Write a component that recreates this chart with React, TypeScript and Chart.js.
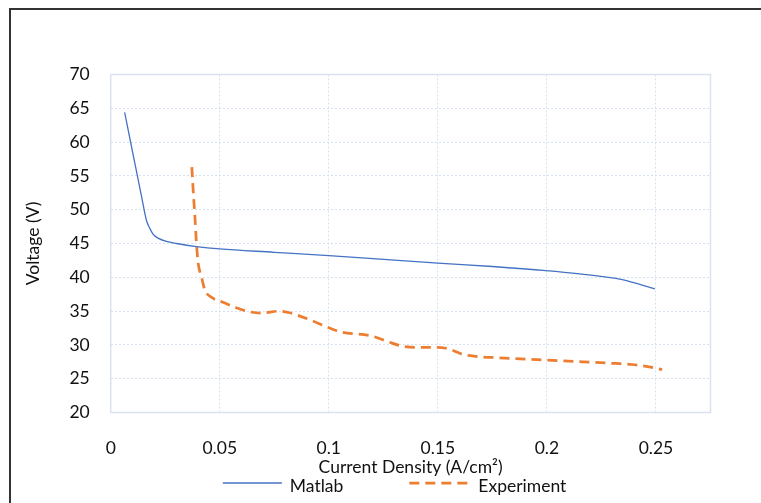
import React, { useEffect, useRef } from 'react';
import { Chart, registerables } from 'chart.js';

Chart.register(...registerables);

// ---- Data ----
const seriesNames = ['Matlab', 'Experiment'];

const matlabX = [0.0064, 0.009, 0.0115, 0.014, 0.0164, 0.018, 0.0194, 0.0217, 0.0256, 0.0302, 0.0393, 0.05, 0.075, 0.1, 0.1186, 0.15, 0.175, 0.1995, 0.215, 0.2345, 0.2425, 0.2495];
const matlabY = [64.4, 60.2, 56.2, 52.2, 48.4, 47.2, 46.4, 45.8, 45.3, 45.0, 44.55, 44.2, 43.7, 43.2, 42.8, 42.1, 41.6, 41.0, 40.5, 39.65, 38.95, 38.3];

const expX = [0.0372, 0.0378, 0.0386, 0.0393, 0.0401, 0.0416, 0.0431, 0.0469, 0.0515, 0.0576, 0.0637, 0.0691, 0.0774, 0.082, 0.0911, 0.1003, 0.1064, 0.1186, 0.1232, 0.1278, 0.1339, 0.14, 0.1499, 0.1537, 0.1567, 0.1613, 0.1674, 0.178, 0.1995, 0.2163, 0.2315, 0.239, 0.2467, 0.2528];
const expY = [56.3, 52.9, 49.0, 45.1, 42.1, 40.1, 38.2, 36.9, 36.3, 35.5, 34.9, 34.7, 35.0, 34.75, 33.75, 32.5, 31.85, 31.4, 30.95, 30.4, 29.8, 29.65, 29.65, 29.5, 29.2, 28.6, 28.3, 28.1, 27.75, 27.5, 27.25, 27.1, 26.75, 26.35];

const xTickValues = [0, 0.05, 0.1, 0.15, 0.2, 0.25];
const xTickLabels = ['0', '0.05', '0.1', '0.15', '0.2', '0.25'];
const yTickValues = [20, 25, 30, 35, 40, 45, 50, 55, 60, 65, 70];
const yTickLabels = ['20', '25', '30', '35', '40', '45', '50', '55', '60', '65', '70'];

const xAxisTitle = 'Current Density (A/cm\u00B2)';
const yAxisTitle = 'Voltage (V)';

const X_MIN = 0;
const X_MAX = 0.275;
const Y_MIN = 20;
const Y_MAX = 70;

// ---- Styles ----
const FONT = 'Lato, "Open Sans", sans-serif';
const FONT_SIZE = 17.5;
const TEXT = '#111111';
const BLUE = '#4472C4';
const ORANGE = '#ED7D31';
const GRID = '#D6E1EF';
const FRAME = '#D9E2EE';

const framePlugin = {
  id: 'plotFrame',
  beforeDatasetsDraw(chart: any) {
    const { ctx, chartArea: a } = chart;
    ctx.save();
    ctx.strokeStyle = FRAME;
    ctx.lineWidth = 1.5;
    ctx.setLineDash([]);
    ctx.strokeRect(a.left, a.top, a.right - a.left, a.bottom - a.top);
    ctx.restore();
  },
};

const lineLegendPlugin = {
  id: 'lineLegend',
  afterDraw(chart: any) {
    const { ctx, chartArea: a } = chart;
    const ds = chart.data.datasets;
    ctx.save();
    ctx.font = `${FONT_SIZE}px ${FONT}`;
    ctx.textBaseline = 'middle';
    ctx.textAlign = 'left';
    const sampleW = [59, 58];
    const textGap = [8, 11];
    const itemGap = 66;
    const widths = ds.map((d: any, i: number) => sampleW[i] + textGap[i] + ctx.measureText(d.label).width);
    const total = widths.reduce((s: number, w: number) => s + w, 0) + itemGap * (ds.length - 1);
    const cx = (a.left + a.right) / 2 - 16;
    let x = cx - total / 2;
    const lineY = a.bottom + 70.5;
    const textY = a.bottom + 73.5;
    ds.forEach((d: any, i: number) => {
      ctx.beginPath();
      ctx.strokeStyle = d.borderColor;
      ctx.lineWidth = d.borderWidth;
      ctx.setLineDash(d.borderDash || []);
      ctx.lineCap = 'butt';
      ctx.moveTo(x, lineY);
      ctx.lineTo(x + sampleW[i], lineY);
      ctx.stroke();
      ctx.setLineDash([]);
      ctx.fillStyle = TEXT;
      ctx.fillText(d.label, x + sampleW[i] + textGap[i], textY);
      x += widths[i] + itemGap;
    });
    ctx.restore();
  },
};

export default function App() {
  const canvasRef = useRef<HTMLCanvasElement | null>(null);

  useEffect(() => {
    document.body.style.margin = '0';
    const canvas = canvasRef.current;
    if (!canvas) return;
    const chart = new Chart(canvas, {
      type: 'line',
      data: {
        datasets: [
          {
            label: seriesNames[0],
            data: matlabX.map((x, i) => ({ x, y: matlabY[i] })),
            borderColor: BLUE,
            backgroundColor: BLUE,
            borderWidth: 1.3,
            pointRadius: 0,
            cubicInterpolationMode: 'monotone',
            fill: false,
          },
          {
            label: seriesNames[1],
            data: expX.map((x, i) => ({ x, y: expY[i] })),
            borderColor: ORANGE,
            backgroundColor: ORANGE,
            borderWidth: 2.75,
            borderDash: [10, 6],
            pointRadius: 0,
            cubicInterpolationMode: 'monotone',
            fill: false,
          },
        ],
      },
      options: {
        responsive: false,
        animation: false,
        devicePixelRatio: 1,
        layout: { padding: { left: 0, top: 74.5, right: 50.5, bottom: 24 } },
        plugins: {
          legend: { display: false },
          tooltip: { enabled: false },
          title: { display: false },
        },
        scales: {
          x: {
            type: 'linear',
            min: X_MIN,
            max: X_MAX,
            afterBuildTicks: (scale: any) => {
              scale.ticks = xTickValues.map((v) => ({ value: v }));
            },
            afterFit: (scale: any) => {
              scale.height = 66.5;
            },
            ticks: {
              autoSkip: false,
              maxRotation: 0,
              padding: 25,
              color: TEXT,
              font: { family: FONT, size: FONT_SIZE },
              callback: (v: any) => {
                const i = xTickValues.findIndex((t) => Math.abs(t - Number(v)) < 1e-9);
                return i >= 0 ? xTickLabels[i] : '';
              },
            },
            grid: { color: GRID, lineWidth: 1, drawTicks: false },
            border: { display: false, dash: [2, 2] },
            title: {
              display: true,
              text: xAxisTitle,
              color: TEXT,
              font: { family: FONT, size: FONT_SIZE },
              padding: { top: 0, bottom: 1 },
            },
          },
          y: {
            type: 'linear',
            min: Y_MIN,
            max: Y_MAX,
            afterBuildTicks: (scale: any) => {
              scale.ticks = yTickValues.map((v) => ({ value: v }));
            },
            afterFit: (scale: any) => {
              scale.width = 110.7;
            },
            ticks: {
              padding: 21,
              color: TEXT,
              font: { family: FONT, size: FONT_SIZE },
              callback: (v: any) => {
                const i = yTickValues.findIndex((t) => Math.abs(t - Number(v)) < 1e-9);
                return i >= 0 ? yTickLabels[i] : '';
              },
            },
            grid: { color: GRID, lineWidth: 1, drawTicks: false },
            border: { display: false, dash: [2, 2] },
            title: {
              display: true,
              text: yAxisTitle,
              color: TEXT,
              font: { family: FONT, size: FONT_SIZE },
              padding: { top: 23, bottom: 0 },
            },
          },
        },
      } as any,
      plugins: [framePlugin, lineLegendPlugin],
    });
    return () => chart.destroy();
  }, []);

  return (
    <div style={{ position: 'absolute', left: 0, top: 0, width: 761, height: 503, overflow: 'hidden', background: '#fff' }}>
      <div
        style={{
          position: 'absolute',
          left: 9,
          top: 8,
          width: 900,
          height: 700,
          borderLeft: '2px solid #333',
          borderTop: '2px solid #333',
          boxSizing: 'border-box',
        }}
      />
      <canvas ref={canvasRef} width={761} height={503} style={{ position: 'absolute', left: 0, top: 0, display: 'block' }} />
    </div>
  );
}
